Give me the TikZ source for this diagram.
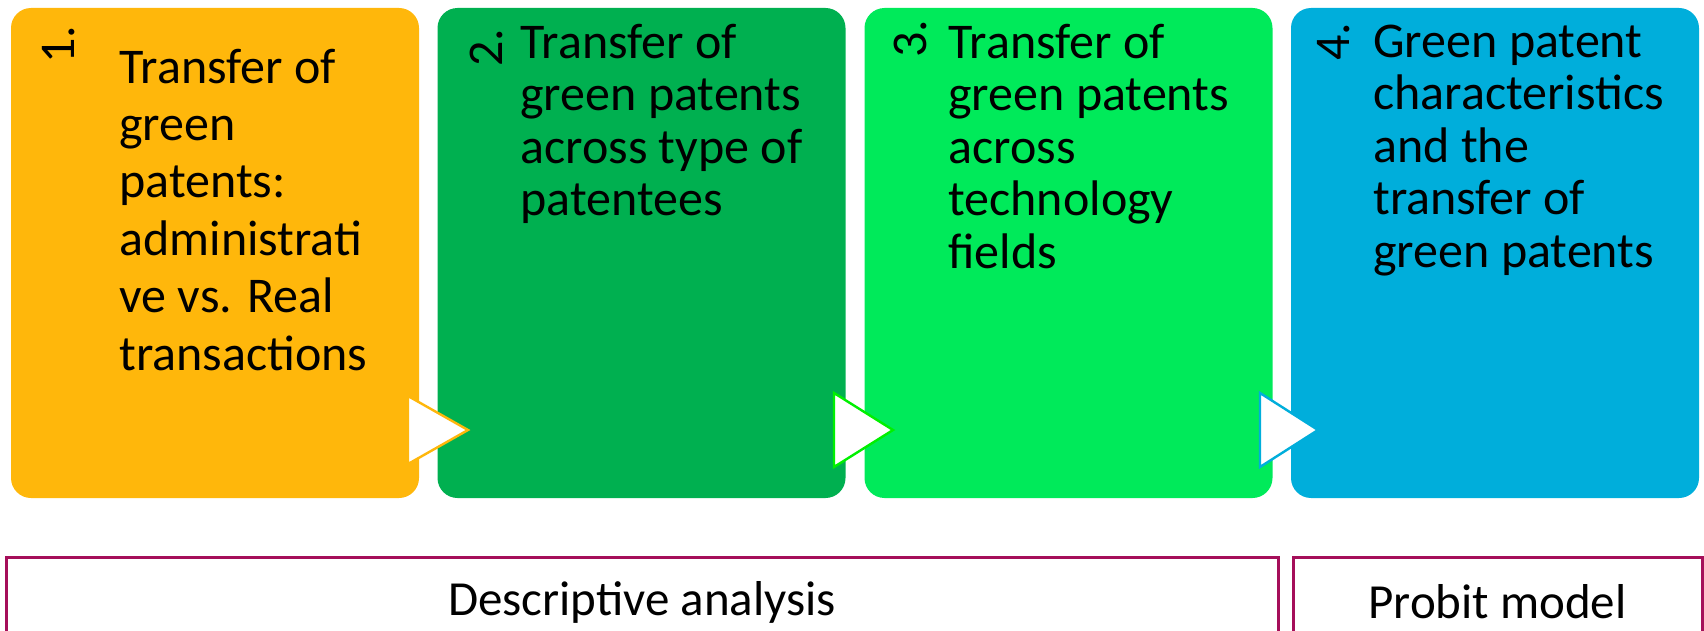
\documentclass[tikz,border=0pt]{standalone}
\usepackage{fontspec}
\setmainfont{Carlito}

\definecolor{stepone}{RGB}{255,183,11}
\definecolor{steptwo}{RGB}{0,176,80}
\definecolor{stepthree}{RGB}{0,234,90}
\definecolor{stepfour}{RGB}{0,174,219}
\definecolor{limeline}{RGB}{0,240,0}
\definecolor{phaseline}{RGB}{165,15,90}

\tikzset{
  stepbox/.style={rounded corners=10pt,minimum width=204pt,minimum height=245pt,inner sep=0pt},
  steptext/.style={anchor=base west,align=left,inner sep=0pt,font=\fontsize{25}{26.25}\selectfont},
  stepnum/.style={rotate=90,anchor=base west,inner sep=0pt,font=\fontsize{25}{28}\selectfont},
  marker/.style={fill=white,line width=1.2pt},
  phasebox/.style={draw=phaseline,line width=1.5pt,minimum height=45pt,inner sep=0pt,font=\fontsize{24.5}{28}\selectfont}
}

\begin{document}
\begin{tikzpicture}[x=0.5pt,y=-0.5pt]
  \useasboundingbox (0,0) rectangle (1704,631);
  % the four steps
  \node[stepbox,fill=stepone] (one) at (215,253) {};
  \node[stepbox,fill=steptwo] (two) at (641.5,253) {};
  \node[stepbox,fill=stepthree] (three) at (1068.5,253) {};
  \node[stepbox,fill=stepfour] (four) at (1495,253) {};

  \node[stepnum] (numone) at (74,64) {1.};
  \node[stepnum] (numtwo) at (502,67) {2.};
  \node[stepnum] (numthree) at (926,58) {3.};
  \node[stepnum] (numfour) at (1349,61) {4.};

  % texts sit on the baseline of their last line
  \node[steptext,font=\fontsize{25}{28.7}\selectfont] (txtone) at (119,370)
    {Transfer of\\green\\patents:\\administrati\\ve vs. Real\\transactions};
  \node[steptext] (txttwo) at (520,215.5)
    {Transfer of\\green patents\\across type of\\patentees};
  \node[steptext] (txtthree) at (948,268)
    {Transfer of\\green patents\\across\\technology\\fields};
  \node[steptext] (txtfour) at (1373,267)
    {Green patent\\characteristics\\and the\\transfer of\\green patents};

  % arrow heads between the steps
  \draw[marker,draw=stepone] (408,396) -- (468,430) -- (408,464) -- cycle;
  \draw[marker,draw=limeline] (834,393) -- (893,430) -- (834,467) -- cycle;
  \draw[marker,draw=stepfour] (1260,393) -- (1318,430) -- (1260,467) -- cycle;

  % the two phases
  \node[phasebox,minimum width=636pt] (descr) at (642,602) {Descriptive analysis};
  \node[phasebox,minimum width=204.5pt] (probit) at (1497.5,602) {Probit model};
\end{tikzpicture}
\end{document}
